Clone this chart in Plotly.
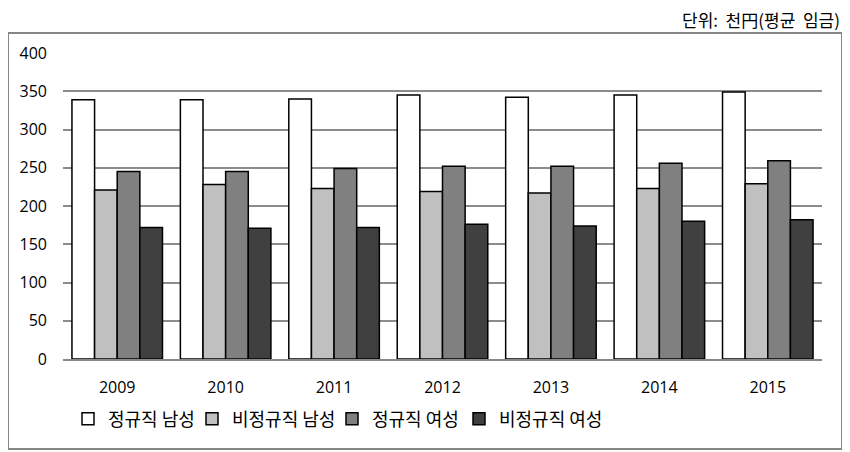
import plotly.graph_objects as go

years = ["2009", "2010", "2011", "2012", "2013", "2014", "2015"]
series_names = ["정규직 남성", "비정규직 남성", "정규직 여성", "비정규직 여성"]
reg_male = [339, 339, 340, 345, 342, 345, 349]
nonreg_male = [221, 228, 223, 219, 217, 223, 229]
reg_female = [245, 245, 249, 252, 252, 256, 259]
nonreg_female = [172, 171, 172, 176, 174, 180, 182]
colors = ["#FFFFFF", "#C0C0C0", "#808080", "#404040"]
y_ticks = [0, 50, 100, 150, 200, 250, 300, 350, 400]

KFONT = "Noto Sans CJK KR, sans-serif"
NFONT = "Open Sans, Noto Sans, sans-serif"

# page body has an 8px margin: figure drawn at (8,8)
OFF = 8
W, H = 850 - OFF, 452 - OFF
PL, PR, PT, PB = 63, 822, 53, 359  # plot area in screen coords
L, R, T, B = PL - OFF, W - (PR - OFF), PT - OFF, H - (PB - OFF)
pw, ph = PR - PL, PB - PT

def px(x):
    return (x - PL) / pw

def py(y):
    return (PB - y) / ph

legend_x = [68, 192, 332, 459]
legend_keys = ["legend", "legend2", "legend3", "legend4"]

fig = go.Figure()
for name, vals, col, lk in zip(series_names, [reg_male, nonreg_male, reg_female, nonreg_female], colors, legend_keys):
    fig.add_trace(go.Bar(x=years, y=vals, name=name, legend=lk,
                         marker=dict(color=col, line=dict(color="#000000", width=1.5))))

legend_common = dict(orientation="h", yanchor="middle", font=dict(family=KFONT, size=18),
                     itemwidth=30, itemclick=False, bgcolor="rgba(0,0,0,0)", borderwidth=0)
layout_legends = {}
for lk, lx in zip(legend_keys, legend_x):
    layout_legends[lk] = dict(legend_common, x=px(lx), y=py(419), xanchor="left")

fig.update_layout(
    width=W, height=H,
    margin=dict(l=L, r=R, t=T, b=B, autoexpand=False),
    paper_bgcolor="white", plot_bgcolor="white",
    font=dict(family=NFONT, size=16, color="#000000"),
    barmode="group", bargap=0.165, bargroupgap=0,
    showlegend=True,
    xaxis=dict(showgrid=False, showline=True, linecolor="#888888", linewidth=2,
               ticks="", tickfont=dict(family=NFONT, size=16), ticklabelstandoff=13),
    yaxis=dict(range=[0, 400], tickvals=y_ticks, showgrid=True, gridcolor="#8C8C8C", gridwidth=2,
               zeroline=False, showline=False, ticks="", tickfont=dict(family=NFONT, size=16),
               ticklabelstandoff=15),
    shapes=[dict(type="rect", xref="paper", yref="paper", x0=px(8), x1=px(842), y0=py(449), y1=py(33),
                 line=dict(color="#868686", width=2), fillcolor="rgba(0,0,0,0)", layer="below")],
    annotations=[dict(text="단위:  천円(평균  임금)", xref="paper", yref="paper", x=px(842), y=py(20),
                      xanchor="right", yanchor="middle", showarrow=False,
                      font=dict(family=KFONT, size=17))],
    **layout_legends,
)

fig.write_html("out.html")
